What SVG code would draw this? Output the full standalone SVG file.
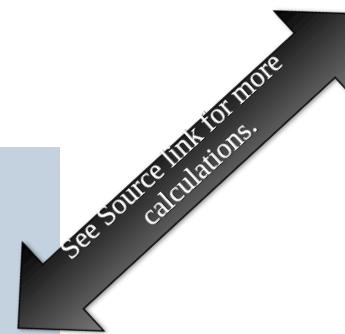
<svg xmlns="http://www.w3.org/2000/svg" width="345" height="334" viewBox="0 0 345 334">
  <defs>
    <linearGradient id="arrowGrad" gradientUnits="userSpaceOnUse" x1="0" y1="-60" x2="0" y2="60">
      <stop offset="0" stop-color="#000000"/>
      <stop offset="1" stop-color="#7a7a7a"/>
    </linearGradient>
    <filter id="shadow" x="-20%" y="-20%" width="140%" height="140%">
      <feDropShadow dx="1" dy="2" stdDeviation="2" flood-color="#000" flood-opacity="0.45"/>
    </filter>
    <filter id="textShadow" x="-10%" y="-30%" width="120%" height="160%">
      <feDropShadow dx="0.8" dy="0.8" stdDeviation="0.6" flood-color="#000" flood-opacity="0.7"/>
    </filter>
    <style>
      .panel { fill: #c4d2e0; }
      .arrow { fill: url(#arrowGrad); stroke: #000; stroke-width: 1.5; stroke-linejoin: miter; }
      .label { font-family: "Liberation Serif", "Times New Roman", serif; font-size: 29px; fill: #ffffff; text-anchor: middle; }
    </style>
  </defs>
  <g id="panel">
    <rect class="panel" x="0" y="147" width="60" height="187"/>
  </g>
  <g id="connectors">
    <g id="double-arrow" transform="translate(189,171) rotate(-42.6)">
      <polygon class="arrow" filter="url(#shadow)" points="-232,0 -171,-60 -171,-30 171,-30 171,-60 232,0 171,60 171,30 -171,30 -171,60"/>
      <g filter="url(#textShadow)">
        <text class="label" x="-3" y="-14">See Source link for more</text>
        <text class="label" x="7" y="16">calculations.</text>
      </g>
    </g>
  </g>
</svg>
